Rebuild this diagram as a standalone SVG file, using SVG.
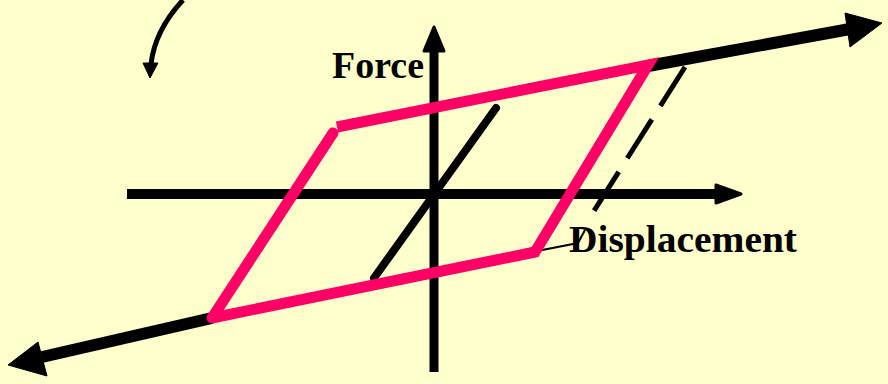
<svg xmlns="http://www.w3.org/2000/svg" width="888" height="384" viewBox="0 0 888 384">
<style>
.blk{stroke:#000;fill:none}
.head{fill:#000;stroke:#000;stroke-linejoin:round}
.pink{stroke:#FF0066;fill:none;stroke-width:11}
.lbl{font-family:"Liberation Serif","Times New Roman",serif;font-weight:bold;font-size:37px;fill:#000}
</style>
<rect width="888" height="384" fill="#FFFFCC"/>
<g id="connectors">
  <path class="blk" d="M183,0 Q155,30 151,64" stroke-width="5"/>
  <polygon class="head" points="143,63 158,63 150,78" stroke-width="1"/>
  <line class="blk" x1="434" y1="372" x2="434" y2="48" stroke-width="9"/>
  <polygon class="head" points="434,27 444,51 424,51" stroke-width="3"/>
  <line class="blk" x1="127" y1="194" x2="720" y2="194" stroke-width="10"/>
  <polygon class="head" points="741,194 716,185 716,203" stroke-width="3"/>
  <line class="blk" x1="648" y1="66" x2="850" y2="29" stroke-width="12"/>
  <polygon class="head" points="882,23 845,13 850,47" stroke-width="1"/>
  <line class="blk" x1="212" y1="318" x2="42" y2="357" stroke-width="12"/>
  <polygon class="head" points="8,365 38,342 47,376" stroke-width="1"/>
  <line class="blk" x1="374" y1="278" x2="496" y2="108" stroke-width="8" stroke-linecap="round"/>
  <line class="blk" x1="685" y1="67" x2="592" y2="214" stroke-width="5" stroke-dasharray="46 16"/>
  <polyline class="blk" points="537,251 578,243 585,230" stroke-width="2"/>
</g>
<g id="loop">
  <line class="pink" x1="212" y1="318" x2="333" y2="133" stroke-linecap="round"/>
  <polyline class="pink" points="337,127 648,65 535,252 212,318" stroke-linejoin="miter"/>
</g>
<g id="force"><text class="lbl" x="332" y="78" textLength="92" lengthAdjust="spacingAndGlyphs">Force</text></g>
<g id="displacement"><text class="lbl" x="569" y="252" textLength="228" lengthAdjust="spacingAndGlyphs">Displacement</text></g>
</svg>
